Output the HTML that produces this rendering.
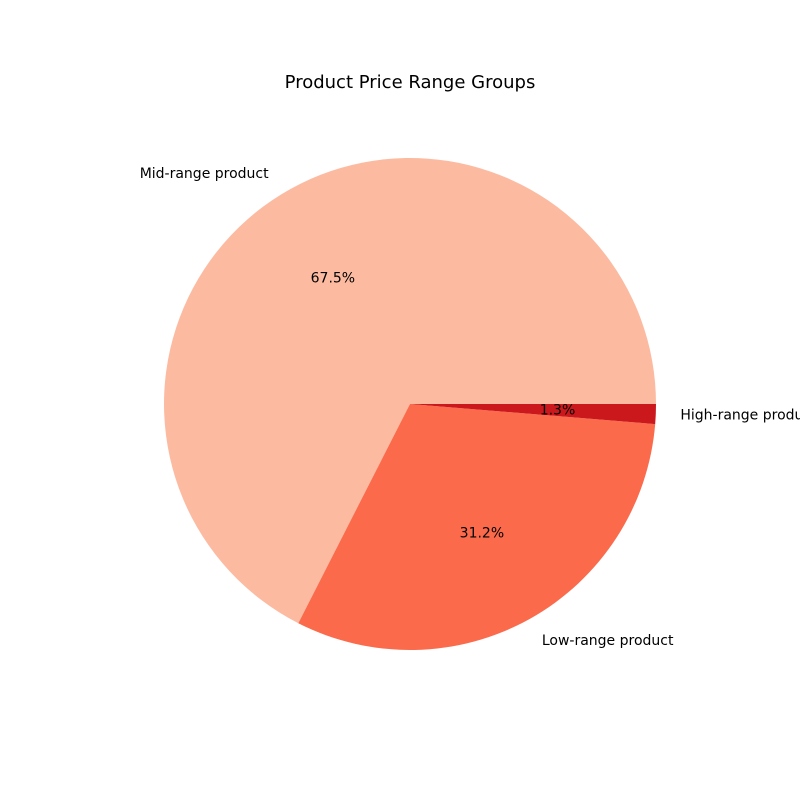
<!DOCTYPE html>
<html><head><meta charset="utf-8"><style>
html,body{margin:0;padding:0;background:#fff}
svg text{font-family:"DejaVu Sans","Liberation Sans",sans-serif}
</style></head><body>
<svg id="chart" width="800" height="800" viewBox="0 0 800 800">
<rect width="800" height="800" fill="#fff"/>
<text x="410" y="88" font-size="18" text-anchor="middle">Product Price Range Groups</text>
<g id="slices"></g>
</svg>
<script>
const categories = ["Mid-range product", "Low-range product", "High-range product"];
const values = [67.5, 31.2, 1.3];
const colors = ["#fcbba1", "#fb6a4a", "#cb181d"];
const cx = 410, cy = 404, R = 246;
const ns = "http://www.w3.org/2000/svg";
const g = document.getElementById("slices");
const total = values.reduce((a,b)=>a+b,0);
function pt(deg, r){ const a = deg*Math.PI/180; return [cx + r*Math.cos(a), cy - r*Math.sin(a)]; }
let start = 0;
values.forEach((v,i)=>{
  const sweep = v/total*360, end = start+sweep;
  const [x1,y1] = pt(start,R), [x2,y2] = pt(end,R);
  const p = document.createElementNS(ns,"path");
  p.setAttribute("d",`M${cx},${cy} L${x1},${y1} A${R},${R} 0 ${sweep>180?1:0} 0 ${x2},${y2} Z`);
  p.setAttribute("fill",colors[i]);
  
  
  g.appendChild(p);
  const mid = start + sweep/2;
  const [lx,ly] = pt(mid, R*1.1);
  const t = document.createElementNS(ns,"text");
  t.setAttribute("x",lx); t.setAttribute("y",ly+4.5);
  t.setAttribute("font-size","14");
  t.setAttribute("text-anchor", Math.cos(mid*Math.PI/180) >= 0 ? "start" : "end");
  t.textContent = categories[i];
  
  
  g.appendChild(t);
  const [px,py] = pt(mid, R*0.6);
  const q = document.createElementNS(ns,"text");
  q.setAttribute("x",px); q.setAttribute("y",py+4.5);
  q.setAttribute("font-size","14");
  q.setAttribute("text-anchor","middle");
  q.textContent = (v/total*100).toFixed(1) + "%";
  
  
  g.appendChild(q);
  start = end;
});
</script>
</body></html>
